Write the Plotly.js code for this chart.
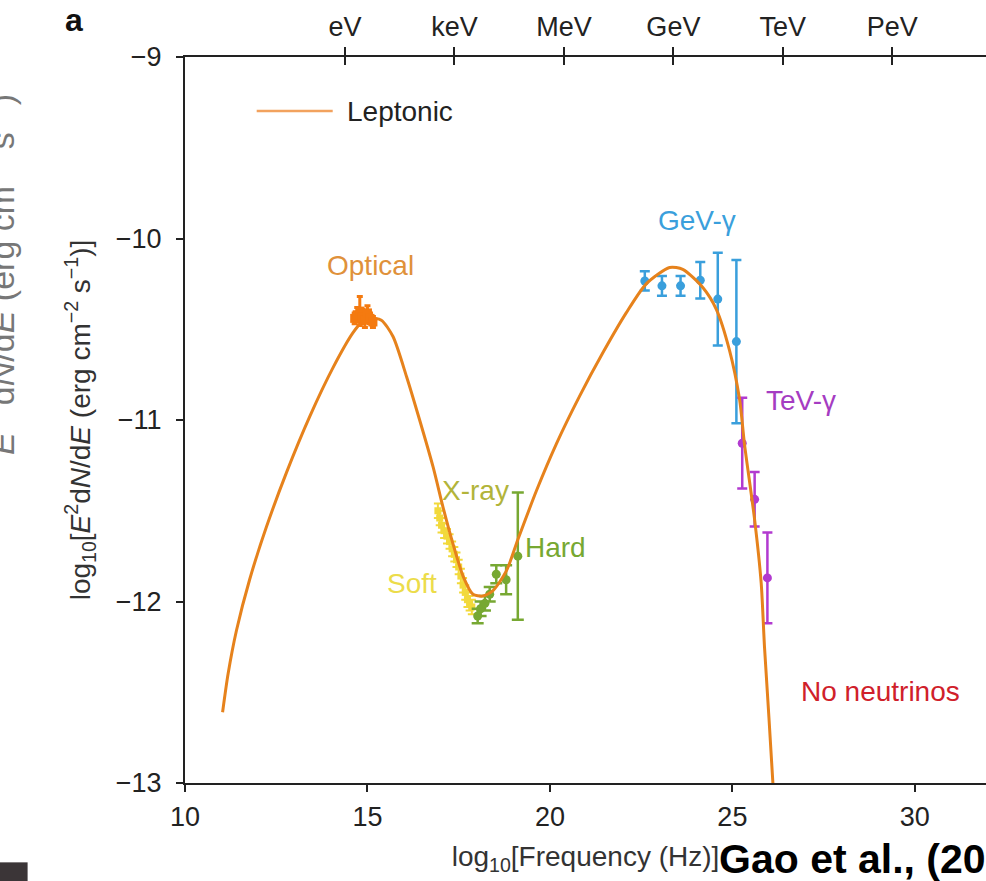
<!DOCTYPE html>
<html>
<head>
<meta charset="utf-8">
<script src="https://cdn.plot.ly/plotly-3.0.1.min.js"></script>
<style>
  html, body { margin: 0; padding: 0; background: #ffffff; }
  #chart { width: 986px; height: 881px; }
</style>
</head>
<body>
<div id="chart"></div>
<script>
// ---- Leptonic model curve (log10 frequency, log10 E^2 dN/dE) ----
const lepX = [11.03, 11.18, 11.41, 11.77, 12.23, 12.78, 13.42, 14.06, 14.60, 14.85, 15.06, 15.38, 15.70, 16.07, 16.43, 16.80, 17.07, 17.34, 17.62, 17.89, 18.16, 18.44, 18.81, 19.12, 19.63, 20.18, 20.81, 21.45, 22.09, 22.64, 23.28, 23.64, 24.19, 24.56, 24.92, 25.20, 25.33, 25.61, 25.79, 25.88, 26.11, 26.25];
const lepY = [-12.61, -12.40, -12.16, -11.88, -11.59, -11.29, -10.98, -10.71, -10.52, -10.46, -10.44, -10.45, -10.54, -10.76, -11.00, -11.26, -11.48, -11.68, -11.86, -11.96, -11.97, -11.94, -11.83, -11.66, -11.39, -11.13, -10.87, -10.63, -10.41, -10.25, -10.16, -10.17, -10.27, -10.39, -10.615, -10.89, -11.13, -11.55, -11.90, -12.25, -13.00, -13.70];

// ---- Optical ----
const optX = [14.65, 14.72, 14.79, 14.86, 14.93, 15.00, 15.07, 15.15];
const optY = [-10.44, -10.42, -10.40, -10.43, -10.45, -10.41, -10.44, -10.46];
const optErr = [0.03, 0.04, 0.08, 0.04, 0.04, 0.04, 0.03, 0.03];

// ---- Soft X-ray ----
const softX = [16.93, 16.98, 17.03, 17.10, 17.18, 17.25, 17.32, 17.38, 17.44, 17.50, 17.56, 17.62, 17.68, 17.74, 17.80, 17.86];
const softY = [-11.50, -11.54, -11.58, -11.61, -11.64, -11.67, -11.71, -11.74, -11.77, -11.81, -11.86, -11.91, -11.95, -11.99, -12.01, -12.03];
const softErr = [0.04, 0.04, 0.04, 0.04, 0.04, 0.04, 0.04, 0.04, 0.04, 0.04, 0.04, 0.04, 0.04, 0.04, 0.04, 0.04];

// ---- Hard X-ray ----
const hardX = [18.02, 18.10, 18.22, 18.35, 18.53, 18.80, 19.12];
const hardY = [-12.08, -12.04, -12.01, -11.96, -11.85, -11.88, -11.75];
const hardErr = [0.04, 0.04, 0.04, 0.04, 0.05, 0.08, 0.35];

// ---- GeV gamma ----
const gevX = [22.60, 23.07, 23.58, 24.12, 24.60, 25.11];
const gevY = [-10.234, -10.261, -10.261, -10.23, -10.334, -10.568];
const gevErr = [0.053, 0.055, 0.055, 0.10, 0.255, 0.45];

// ---- TeV gamma ----
const tevX = [25.27, 25.61, 25.96];
const tevY = [-11.128, -11.437, -11.870];
const tevErr = [0.25, 0.15, 0.25];

// ---- Axis ticks ----
const freqTicks = [10, 15, 20, 25, 30];
const fluxTicks = [-13, -12, -11, -10, -9];
const energyLabels = ['eV', 'keV', 'MeV', 'GeV', 'TeV', 'PeV'];
const energyExp = [0, 3, 6, 9, 12, 15];            // log10(E / eV)
const logNuOf1eV = Math.log10(2.417989e14);          // 1 eV expressed as log10 frequency (Hz)
const energyTicks = energyExp.map(e => logNuOf1eV + e);

const FONT = 'Liberation Sans, Arial, Helvetica, sans-serif';
const XR = [10, 31.95];

const colCurve = '#e6821c';
const colOpt = '#f47a10';
const colSoft = '#f2d93b';
const colHard = '#77a832';
const colGeV = '#3a9fdc';
const colTeV = '#b23ad0';

function pts(x, y, err, color, symbol, size, cap, thick) {
  return {
    x: x, y: y, type: 'scatter', mode: 'markers', showlegend: false,
    marker: { color: color, symbol: symbol, size: size },
    error_y: { type: 'data', array: err, visible: true, color: color, width: cap, thickness: thick },
    hoverinfo: 'x+y'
  };
}

const traces = [
  pts(softX, softY, softErr, colSoft, 'square', 7, 4, 2),
  pts(hardX, hardY, hardErr, colHard, 'circle', 9, 6, 2.5),
  pts(gevX, gevY, gevErr, colGeV, 'circle', 9, 5, 2.5),
  pts(tevX, tevY, tevErr, colTeV, 'circle', 9, 5, 2.5),
  {
    x: lepX, y: lepY, type: 'scatter', mode: 'lines', name: 'Leptonic', showlegend: false,
    line: { color: colCurve, width: 3, shape: 'spline', smoothing: 0.7 }
  },
  pts(optX, optY, optErr, colOpt, 'square', 9, 3, 3),
  // top energy axes (ticks crossing the frame)
  { x: energyTicks, y: energyTicks.map(() => -9), xaxis: 'x2', type: 'scatter', mode: 'markers',
    marker: { opacity: 0 }, showlegend: false, hoverinfo: 'skip' },
  { x: energyTicks, y: energyTicks.map(() => -9), xaxis: 'x3', type: 'scatter', mode: 'markers',
    marker: { opacity: 0 }, showlegend: false, hoverinfo: 'skip' }
];

const axisCommon = {
  showgrid: false, zeroline: false, showline: true, linecolor: '#222', linewidth: 2,
  tickcolor: '#222', tickwidth: 2, tickfont: { family: FONT, size: 27, color: '#222' }
};

function ann(text, x, y, color, size) {
  return { text: text, x: x, y: y, xref: 'x', yref: 'y', showarrow: false,
           font: { family: FONT, size: size || 28, color: color }, xanchor: 'center', yanchor: 'middle' };
}

const layout = {
  width: 986, height: 881,
  margin: { l: 185, r: 0, t: 57, b: 98, pad: 0 },
  paper_bgcolor: '#ffffff', plot_bgcolor: '#ffffff',
  showlegend: false,
  font: { family: FONT, color: '#222' },
  xaxis: Object.assign({}, axisCommon, {
    range: XR, tickmode: 'array', tickvals: freqTicks, ticktext: freqTicks.map(String),
    ticks: 'outside', ticklen: 7, ticklabelstandoff: 2,
    title: { text: 'log<sub>10</sub>[Frequency (Hz)]', font: { family: FONT, size: 28, color: '#333' }, standoff: 15 },
    automargin: false
  }),
  xaxis2: Object.assign({}, axisCommon, {
    range: XR, overlaying: 'x', side: 'top', anchor: 'y',
    tickmode: 'array', tickvals: energyTicks, ticktext: energyLabels,
    ticks: 'outside', ticklen: 8, ticklabelstandoff: 0, automargin: false
  }),
  xaxis3: Object.assign({}, axisCommon, {
    range: XR, overlaying: 'x', side: 'top', anchor: 'y',
    tickmode: 'array', tickvals: energyTicks, showticklabels: false,
    ticks: 'inside', ticklen: 8, automargin: false
  }),
  yaxis: Object.assign({}, axisCommon, {
    range: [-13, -9], tickmode: 'array', tickvals: fluxTicks,
    ticktext: fluxTicks.map(v => '\u2212' + Math.abs(v)),
    ticks: 'outside', ticklen: 7, ticklabelstandoff: 9,
    title: { text: 'log<sub>10</sub>[<i>E</i><sup>2</sup>d<i>N</i>/d<i>E</i> (erg cm<sup>\u22122</sup> s<sup>\u22121</sup>)]',
             font: { family: FONT, size: 28, color: '#333' }, standoff: 17 },
    automargin: false
  }),
  shapes: [
    { type: 'line', xref: 'paper', yref: 'paper', x0: 0.0895, x1: 0.1844, y0: 0.9256, y1: 0.9256,
      line: { color: '#f2a25e', width: 2.5 } },
    { type: 'rect', xref: 'paper', yref: 'paper', x0: -0.2314, x1: -0.1965, y0: -0.1355, y1: -0.1093,
      fillcolor: '#3b3537', line: { width: 0 } }
  ],
  annotations: [
    { text: 'Leptonic', xref: 'paper', yref: 'paper', x: 0.1994, y: 0.9256, xanchor: 'left', yanchor: 'middle',
      showarrow: false, font: { family: FONT, size: 28, color: '#222' } },
    ann('Optical', 15.09, -10.15, '#e0913a'),
    ann('X-ray', 17.96, -11.39, '#b2b43a'),
    ann('Soft', 16.21, -11.90, '#ecdc4a'),
    ann('Hard', 20.16, -11.70, '#77a832'),
    ann('GeV-\u03b3', 24.02, -9.90, '#3a9fdc'),
    ann('TeV-\u03b3', 26.87, -10.895, '#a53cc2'),
    ann('No neutrinos', 29.06, -12.494, '#d0202a'),
    { text: '<b>a</b>', xref: 'paper', yref: 'paper', x: -0.138, y: 1.051, xanchor: 'center', yanchor: 'middle',
      showarrow: false, font: { family: FONT, size: 32, color: '#111' } },
    { text: '<b>Gao et al., (2019)</b>', xref: 'paper', yref: 'paper', x: 0.664, y: -0.104,
      xanchor: 'left', yanchor: 'middle', showarrow: false, font: { family: FONT, size: 41, color: '#000' } },
    { text: '<i>E</i><sup>\u22122</sup>d<i>N</i>/d<i>E</i> (erg cm<sup>\u22122</sup> s<sup>\u22121</sup>)',
      xref: 'paper', yref: 'paper', x: -0.232, y: 0.70, xanchor: 'center', yanchor: 'middle', textangle: -90,
      showarrow: false, font: { family: FONT, size: 34, color: '#777' } }
  ]
};

Plotly.newPlot('chart', traces, layout, { staticPlot: true, displayModeBar: false });
</script>
</body>
</html>
